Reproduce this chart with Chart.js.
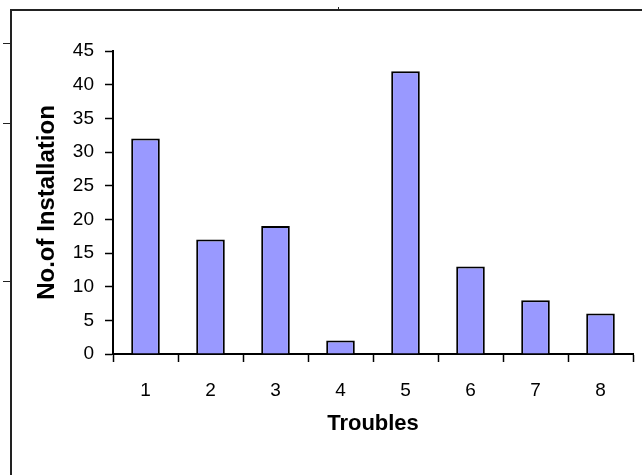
<!DOCTYPE html>
<html>
<head>
<meta charset="utf-8">
<script src="https://cdn.jsdelivr.net/npm/chart.js@4"></script>
<style>
  body { margin: 0; background: #fff; }
  #wrap { position: relative; width: 642px; height: 475px; overflow: hidden; }
  #wrap canvas { position: absolute; left: 0; top: 0; }
  .edge { position: absolute; background: #222; }
</style>
</head>
<body>
<div id="wrap">
  <canvas id="troubleChart" width="642" height="475"></canvas>
  <!-- page frame left over in the screenshot -->
  <div class="edge" style="left:10px; top:9px; width:632px; height:2px;"></div>
  <div class="edge" style="left:10px; top:9px; width:2px; height:466px;"></div>
  <div class="edge" style="left:3px; top:43px; width:7px; height:1px;"></div>
  <div class="edge" style="left:3px; top:123px; width:7px; height:1px;"></div>
  <div class="edge" style="left:3px; top:281px; width:7px; height:1px;"></div>
  <div class="edge" style="left:338px; top:7px; width:1px; height:2px;"></div>
</div>
<script>
// troubles per category
let troubles = ["1", "2", "3", "4", "5", "6", "7", "8"];
let installations = [32, 17, 19, 2, 42, 13, 8, 6];
let yTicks = [0, 5, 10, 15, 20, 25, 30, 35, 40, 45];

let labelFont = { family: "'Liberation Sans', Arial, sans-serif", size: 19 };
let titleFont = { family: "'Liberation Sans', Arial, sans-serif", size: 24, weight: "bold" };

let ctx = document.getElementById("troubleChart").getContext("2d");
new Chart(ctx, {
  type: "bar",
  data: {
    labels: troubles,
    datasets: [
      {
        label: "No.of Installation",
        data: installations,
        backgroundColor: "#9999ff",
        borderColor: "#000000",
        borderWidth: 2,
        categoryPercentage: 1,
        barPercentage: 0.44,
      },
    ],
  },
  options: {
    responsive: false,
    animation: false,
    layout: { padding: { left: 0, top: 51, right: 9, bottom: 0 } },
    plugins: { legend: { display: false }, tooltip: { enabled: false } },
    scales: {
      x: {
        offset: true,
        grid: {
          offset: true,
          drawOnChartArea: false,
          drawTicks: true,
          tickLength: 8,
          tickColor: "#000",
          tickWidth: 1.5,
        },
        border: { display: true, color: "#000", width: 2 },
        ticks: { color: "#000", font: labelFont, padding: 17, maxRotation: 0 },
        title: {
          display: true,
          text: "Troubles",
          color: "#000",
          font: { ...titleFont, size: 22 },
          padding: { top: 0, bottom: 38 },
        },
        afterFit: (scale) => { scale.height = 475 - 354; },
      },
      y: {
        min: 0,
        max: 45,
        afterBuildTicks: (scale) => { scale.ticks = yTicks.map((v) => ({ value: v })); },
        grid: {
          drawOnChartArea: false,
          drawTicks: true,
          tickLength: 8,
          tickColor: "#000",
          tickWidth: 1.5,
        },
        border: { display: true, color: "#000", width: 2 },
        ticks: { color: "#000", font: labelFont, padding: 11 },
        title: {
          display: true,
          text: "No.of Installation",
          color: "#000",
          font: titleFont,
          padding: { top: 33, bottom: 0 },
        },
        afterFit: (scale) => { scale.width = 113; },
      },
    },
  },
});
</script>
</body>
</html>
